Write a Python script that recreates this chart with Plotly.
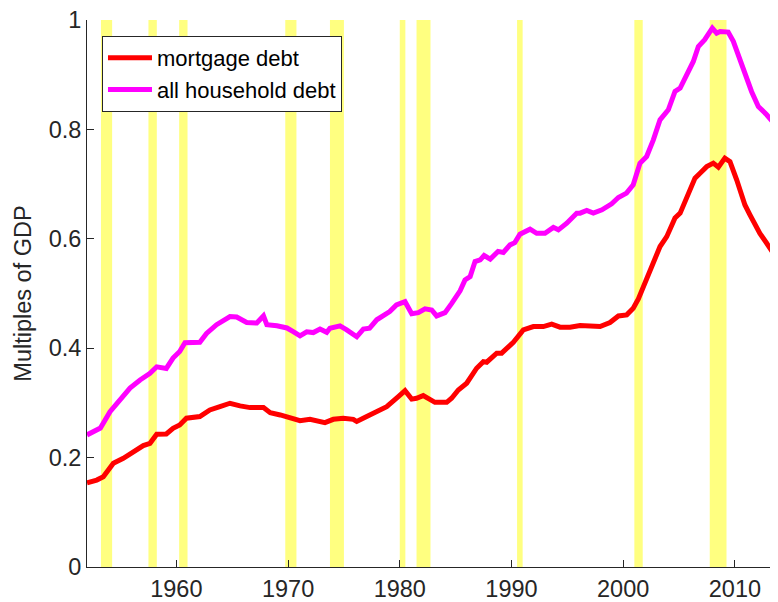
import plotly.graph_objects as go

# ---- data ----
household_years = [1952.0, 1953.2, 1954.06, 1954.95, 1955.85, 1956.75, 1957.64, 1958.24, 1959.1, 1959.7,
                   1960.3, 1960.77, 1962.1, 1962.7, 1963.6, 1964.8, 1965.4, 1966.3, 1967.2, 1967.8,
                   1968.1, 1969.0, 1969.9, 1970.5, 1971.07, 1971.67, 1972.26, 1972.86, 1973.46, 1973.75,
                   1974.65, 1975.25, 1976.15, 1976.74, 1977.3, 1977.94, 1978.5, 1979.1, 1979.7, 1980.47,
                   1981.07, 1981.66, 1982.26, 1982.86, 1983.3, 1984.05, 1984.65, 1985.4, 1985.84, 1986.3,
                   1986.74, 1987.2, 1987.55, 1988.1, 1988.8, 1989.27, 1989.87, 1990.3, 1990.76, 1991.66,
                   1992.26, 1993.0, 1993.75, 1994.2, 1994.95, 1995.84, 1996.14, 1996.74, 1997.33, 1998.1,
                   1998.97, 1999.57, 2000.3, 2000.9, 2001.5, 2002.1, 2002.7, 2003.3, 2004.04, 2004.64,
                   2005.1, 2005.7, 2006.28, 2006.73, 2007.3, 2007.98, 2008.37, 2008.67, 2009.4, 2009.86,
                   2010.46, 2011.06, 2011.5, 2012.1, 2012.85, 2013.74]
household_debt = [0.2415, 0.254, 0.284, 0.305, 0.327, 0.342, 0.354, 0.366, 0.363, 0.382,
                  0.394, 0.41, 0.411, 0.427, 0.443, 0.458, 0.457, 0.447, 0.446, 0.459,
                  0.443, 0.441, 0.437, 0.430, 0.4225, 0.430, 0.4286, 0.435, 0.429, 0.4366,
                  0.441, 0.4335, 0.421, 0.435, 0.4366, 0.452, 0.458, 0.467, 0.479, 0.485,
                  0.463, 0.465, 0.472, 0.470, 0.459, 0.465, 0.482, 0.505, 0.525, 0.531,
                  0.5585, 0.5616, 0.5695, 0.563, 0.577, 0.575, 0.589, 0.593, 0.6085, 0.6177,
                  0.610, 0.610, 0.621, 0.6164, 0.6287, 0.647, 0.647, 0.652, 0.647, 0.653,
                  0.664, 0.6755, 0.6835, 0.6987, 0.738, 0.7505, 0.781, 0.8176, 0.836, 0.8694,
                  0.8756, 0.900, 0.9243, 0.9517, 0.964, 0.9853, 0.976, 0.979, 0.978, 0.961,
                  0.927, 0.897, 0.869, 0.842, 0.8268, 0.8054]

mortgage_years = [1952.0, 1952.87, 1953.46, 1954.36, 1955.25, 1956.15, 1957.04, 1957.64, 1958.24, 1959.1,
                  1959.7, 1960.3, 1960.9, 1962.1, 1963.0, 1963.9, 1964.8, 1965.7, 1966.6, 1967.8,
                  1968.4, 1969.3, 1970.2, 1971.07, 1971.96, 1972.86, 1973.3, 1974.05, 1974.95, 1975.84,
                  1976.15, 1977.04, 1977.94, 1978.83, 1979.87, 1980.47, 1981.07, 1981.5, 1982.1, 1982.7,
                  1983.15, 1984.2, 1984.64, 1985.24, 1985.99, 1986.88, 1987.48, 1987.78, 1988.68, 1989.12,
                  1990.17, 1991.06, 1991.96, 1992.85, 1993.6, 1994.35, 1995.24, 1996.14, 1997.03, 1997.93,
                  1998.82, 1999.57, 2000.32, 2000.9, 2001.36, 2002.1, 2002.7, 2003.3, 2003.9, 2004.64,
                  2005.1, 2005.7, 2006.43, 2006.88, 2007.48, 2008.07, 2008.52, 2009.1, 2009.56, 2010.16,
                  2010.6, 2010.9, 2011.35, 2012.24, 2012.85, 2013.74]
mortgage_debt = [0.154, 0.159, 0.165, 0.1897, 0.1988, 0.211, 0.222, 0.2262, 0.2427, 0.2433,
                 0.2537, 0.2597, 0.272, 0.275, 0.2872, 0.2932, 0.2994, 0.2945, 0.2914, 0.2914,
                 0.2822, 0.278, 0.2738, 0.2676, 0.270, 0.267, 0.264, 0.270, 0.272, 0.270,
                 0.266, 0.275, 0.2853, 0.2932, 0.3115, 0.3225, 0.307, 0.3085, 0.3133, 0.3067,
                 0.301, 0.301, 0.3085, 0.3237, 0.336, 0.3634, 0.3755, 0.3744, 0.391, 0.391,
                 0.411, 0.4335, 0.4396, 0.4396, 0.4439, 0.4384, 0.4384, 0.4414, 0.4408, 0.4396,
                 0.447, 0.459, 0.461, 0.473, 0.490, 0.525, 0.5555, 0.586, 0.604, 0.638,
                 0.647, 0.6744, 0.711, 0.720, 0.732, 0.7384, 0.731, 0.7476, 0.741, 0.708,
                 0.6835, 0.662, 0.644, 0.610, 0.592, 0.5647]

# NBER recessions (quarterly dates, peak to trough)
recession_start = [1953.25, 1957.5, 1960.25, 1969.75, 1973.75, 1980.0, 1981.5, 1990.5, 2001.0, 2007.75]
recession_end = [1954.25, 1958.25, 1961.0, 1970.75, 1975.0, 1980.5, 1982.75, 1991.0, 2001.75, 2009.25]

x_ticks = [1960, 1970, 1980, 1990, 2000, 2010]
y_ticks = [0, 0.2, 0.4, 0.6, 0.8, 1]
y_tick_labels = ["0", "0.2", "0.4", "0.6", "0.8", "1"]

# ---- figure ----
fig = go.Figure()

fig.add_trace(go.Scatter(x=mortgage_years, y=mortgage_debt, mode="lines",
                         name="mortgage debt", line=dict(color="#ff0000", width=5)))
fig.add_trace(go.Scatter(x=household_years, y=household_debt, mode="lines",
                         name="all household debt", line=dict(color="#ff00ff", width=5)))

for s, e in zip(recession_start, recession_end):
    fig.add_shape(type="rect", xref="x", yref="y", x0=s, x1=e, y0=0, y1=1,
                  fillcolor="rgb(255,255,128)", line=dict(width=0), layer="below")

axis_color = "#262626"
fig.update_layout(
    width=770, height=594,
    margin=dict(l=79, r=0, t=12, b=35, autoexpand=False),
    paper_bgcolor="white", plot_bgcolor="white",
    font=dict(family="Liberation Sans, Arial, sans-serif", color=axis_color, size=23.5),
    showlegend=True,
    legend=dict(x=0.0217, y=0.9707, xanchor="left", yanchor="top",
                bgcolor="white", bordercolor=axis_color, borderwidth=1,
                font=dict(size=22, color="#000000"), tracegroupgap=0, itemwidth=44),
    xaxis=dict(range=[1952, 2013.86], tickvals=x_ticks, ticks="inside", ticklen=7,
               tickcolor=axis_color, showline=True, linecolor=axis_color, linewidth=1,
               showgrid=False, zeroline=False, tickfont=dict(size=23.5), automargin=False,
               ticklabeloverflow="allow", ticklabelstandoff=1),
    yaxis=dict(range=[0, 1.0001], tickvals=y_ticks, ticktext=y_tick_labels, ticks="inside",
               ticklen=7, tickcolor=axis_color, showline=True, linecolor=axis_color,
               linewidth=1, showgrid=False, zeroline=False, tickfont=dict(size=23.5),
               automargin=False, ticklabeloverflow="allow",
               title=dict(text="Multiples of GDP", font=dict(size=23.5), standoff=10)),
)

fig.write_html("out.html")
